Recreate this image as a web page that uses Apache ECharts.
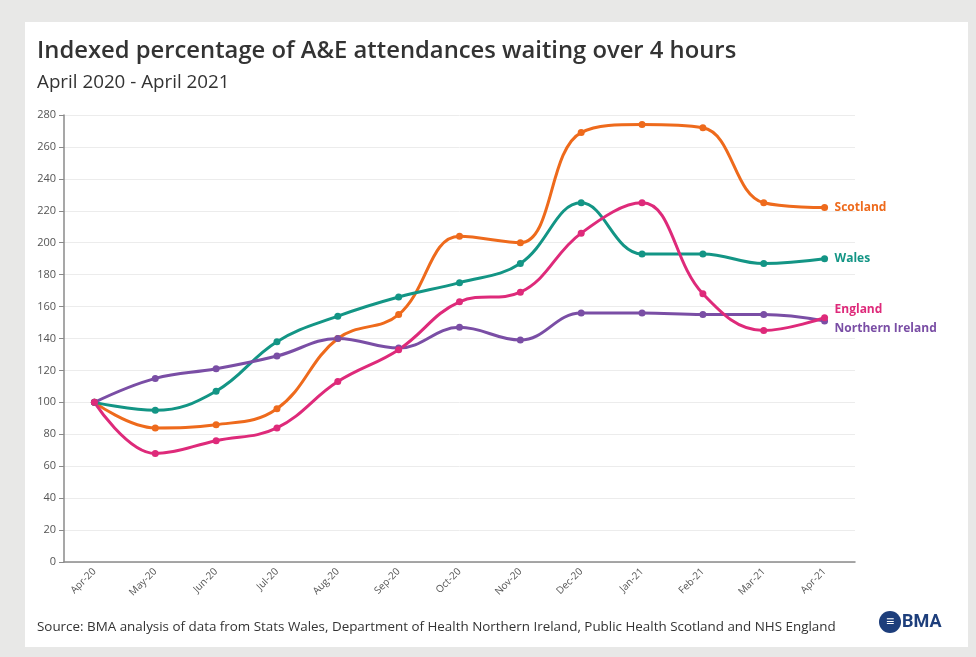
<!DOCTYPE html>
<html lang="en">
<head>
    <meta charset="utf-8">
    <title>A&amp;E waits</title>
    <script src="https://cdn.jsdelivr.net/npm/echarts@6/dist/echarts.min.js"></script>
    <style>
        body { margin: 0; background: #e8e8e7; }
        .card { position: absolute; left: 25px; top: 22px; width: 943px; height: 625px; background: #fff; }
        #main { position: absolute; left: 0; top: 0; width: 976px; height: 657px; }
    </style>
</head>
<body>
<div class="card"></div>
<div id="main"></div>
<script>
    var months = ['Apr-20', 'May-20', 'Jun-20', 'Jul-20', 'Aug-20', 'Sep-20', 'Oct-20',
        'Nov-20', 'Dec-20', 'Jan-21', 'Feb-21', 'Mar-21', 'Apr-21'];
    var scotland = [100, 84, 86, 96, 140, 155, 204, 200, 269, 274, 272, 225, 222];
    var wales = [100, 95, 107, 138, 154, 166, 175, 187, 225, 193, 193, 187, 190];
    var england = [100, 68, 76, 84, 113, 133, 163, 169, 206, 225, 168, 145, 153];
    var nIreland = [100, 115, 121, 129, 140, 134, 147, 139, 156, 156, 155, 155, 151];

    var font = '"Open Sans", sans-serif';

    function line(name, data, color, offsetY) {
        return {
            name: name,
            type: 'line',
            data: data,
            smooth: 0.4,
            symbol: 'circle',
            symbolSize: 7,
            lineStyle: { width: 3, color: color },
            itemStyle: { color: color },
            endLabel: {
                show: true,
                formatter: '{a}',
                color: color,
                fontWeight: 'bold',
                fontSize: 12,
                fontFamily: font,
                distance: 10,
                offset: [0, offsetY]
            }
        };
    }

    var chart = echarts.init(document.getElementById('main'));
    chart.setOption({
        animation: false,
        title: [{
            text: 'Indexed percentage of A&E attendances waiting over 4 hours',
            left: 32, top: 34,
            textStyle: { fontFamily: font, fontWeight: 600, fontSize: 23.8, color: '#333' }
        }, {
            text: 'April 2020 - April 2021',
            left: 32, top: 68,
            textStyle: { fontFamily: font, fontWeight: 'normal', fontSize: 18.8, color: '#333' }
        }, {
            text: 'Source: BMA analysis of data from Stats Wales, Department of Health Northern Ireland, Public Health Scotland and NHS England',
            left: 32, top: 616,
            textStyle: { fontFamily: font, fontWeight: 'normal', fontSize: 13.4, color: '#333' }
        }],
        grid: { left: 64, right: 121, top: 115, bottom: 95 },
        xAxis: {
            type: 'category',
            data: months,
            boundaryGap: true,
            axisLine: { lineStyle: { color: '#8a8a8a', width: 1.5 } },
            axisTick: { alignWithLabel: true, length: 5, lineStyle: { color: '#8a8a8a', width: 1.5 } },
            axisLabel: { rotate: 45, fontSize: 10, color: '#555', fontFamily: font, margin: 8 }
        },
        yAxis: {
            type: 'value',
            min: 0, max: 280, interval: 20,
            axisLine: { show: true, lineStyle: { color: '#8a8a8a', width: 1.5 } },
            axisTick: { show: true, length: 5, lineStyle: { color: '#8a8a8a' } },
            axisLabel: { fontSize: 11, color: '#555', fontFamily: font, margin: 8 },
            splitLine: { lineStyle: { color: '#ececec' } }
        },
        series: [
            line('Scotland', scotland, '#ee6a1c', 0),
            line('Wales', wales, '#139585', 0),
            line('Northern Ireland', nIreland, '#7a4ea5', 8),
            line('England', england, '#de2a7a', -8)
        ],
        graphic: [{
            type: 'circle',
            shape: { cx: 890, cy: 622, r: 11 },
            style: { fill: '#1d3e7b' }
        }, {
            type: 'text',
            x: 890, y: 622,
            style: { text: '\u2261', fill: '#fff', font: 'bold 14px sans-serif', align: 'center', verticalAlign: 'middle' }
        }, {
            type: 'text',
            x: 902, y: 622,
            style: { text: 'BMA', fill: '#1d3e7b', font: 'bold 18px Roboto, sans-serif', verticalAlign: 'middle' }
        }]
    });
</script>
</body>
</html>
